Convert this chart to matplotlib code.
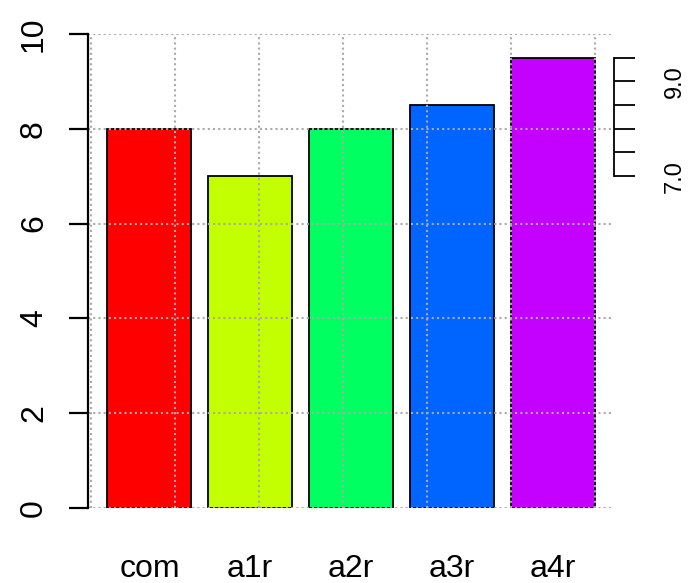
import matplotlib.pyplot as plt
import numpy as np

# data
groups = ['com', 'a1r', 'a2r', 'a3r', 'a4r']
values = [8.0, 7.0, 8.0, 8.5, 9.5]
bar_colors = ['#FF0000', '#C4FF00', '#00FF60', '#0064FF', '#C400FF']
left_ticks = [0, 2, 4, 6, 8, 10]
right_ticks = [7.0, 7.5, 8.0, 8.5, 9.0, 9.5]
right_labels = ['7.0', '', '', '', '9.0', '']

plt.rcParams['font.family'] = ['Liberation Sans', 'DejaVu Sans']

W, H = 691, 583
fig = plt.figure(figsize=(W / 100, H / 100), dpi=100)
ax = fig.add_axes([88 / W, 1 - 508 / H, (614 - 88) / W, (508 - 34) / H])

# R-style barplot positions: width 1, space 0.2
centers = 0.7 + 1.2 * np.arange(len(groups))
ax.bar(centers, values, width=1.0, color=bar_colors, edgecolor='black',
       linewidth=1.3, zorder=2)

ax.set_xlim(-0.032, 6.232)
ax.set_ylim(0, 10)

# dotted grey grid drawn over the bars
grid_style = dict(color='#aaaaaa', linestyle=(0, (1, 1.5)), linewidth=1.5, zorder=3)
for gy in left_ticks:
    ax.axhline(gy, **grid_style)
for gx in range(0, 7):
    ax.axvline(gx, **grid_style)

for s in ['top', 'bottom', 'right']:
    ax.spines[s].set_visible(False)
ax.spines['left'].set_bounds(0, 10)
ax.spines['left'].set_linewidth(1.6)
ax.spines['left'].set_zorder(4)

ax.set_yticks(left_ticks)
ax.set_yticklabels([str(t) for t in left_ticks])
ax.tick_params(axis='y', length=14, width=1.6, pad=14, labelsize=23,
               labelrotation=90, colors='black')
for lab in ax.get_yticklabels():
    lab.set_va('center')

ax.set_xticks(centers)
ax.set_xticklabels(groups)
ax.tick_params(axis='x', length=0, pad=33, labelsize=23)

# small secondary axis on the right
ax2 = ax.twinx()
ax2.set_ylim(0, 10)
for s in ['top', 'bottom', 'left']:
    ax2.spines[s].set_visible(False)
ax2.spines['right'].set_bounds(7.0, 9.5)
ax2.spines['right'].set_linewidth(1.3)
ax2.set_yticks(right_ticks)
ax2.set_yticklabels(right_labels)
ax2.tick_params(axis='y', length=15, width=1.3, pad=21, labelsize=17,
                labelrotation=90)
for lab in ax2.get_yticklabels():
    lab.set_va('center')

fig.savefig('out.png', dpi=100)
